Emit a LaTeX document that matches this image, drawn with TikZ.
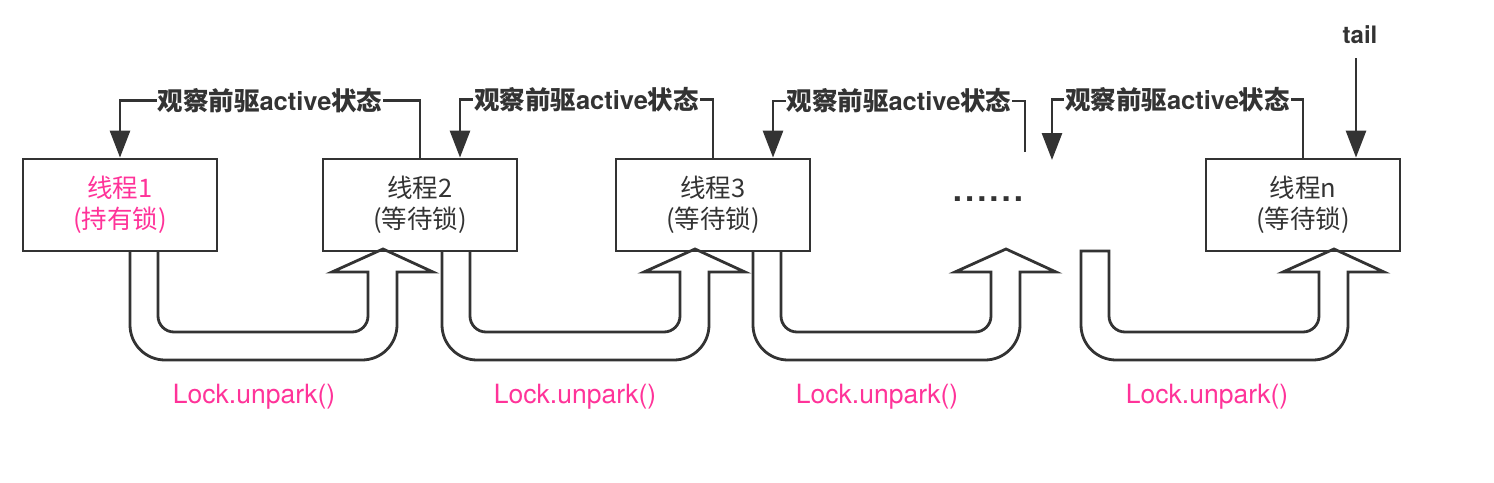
\documentclass[tikz,border=0pt]{standalone}
\usepackage{fontspec}
\newfontfamily\cjk{Noto Sans CJK SC}
\newfontfamily\heros{TeX Gyre Heros}
\usetikzlibrary{arrows.meta,calc}
\definecolor{ink}{HTML}{333333}
\definecolor{pinkx}{HTML}{FF3399}
\newcommand\obslabel{{\cjk\bfseries 观察前驱}{\heros\bfseries active}{\cjk\bfseries 状态}}
\tikzset{
  uarrow/.pic={
    \draw[bigarrow] (0,-251) -- (0,-325) arc[start angle=180,end angle=270,radius=35]
      -- (232,-360) arc[start angle=270,end angle=360,radius=35]
      -- (267,-272) -- (303,-272) -- (253,-249) -- (202,-272) -- (238,-272)
      -- (238,-316) arc[start angle=0,end angle=-90,radius=16]
      -- (44,-332) arc[start angle=270,end angle=180,radius=16]
      -- (28,-251);
  },
  uarrowclosed/.pic={
    \draw[bigarrow] (0,-251) -- (0,-325) arc[start angle=180,end angle=270,radius=35]
      -- (232,-360) arc[start angle=270,end angle=360,radius=35]
      -- (267,-272) -- (303,-272) -- (253,-249) -- (202,-272) -- (238,-272)
      -- (238,-316) arc[start angle=0,end angle=-90,radius=16]
      -- (44,-332) arc[start angle=270,end angle=180,radius=16]
      -- (28,-251) -- cycle;
  }
}
\begin{document}
\begin{tikzpicture}[x=1pt,y=1pt,
  box/.style={draw=ink, line width=2.8pt, minimum width=194pt, minimum height=92pt,
    inner sep=0pt, align=center, text=ink, font=\cjk\fontsize{25.5}{31}\selectfont},
  conn/.style={draw=ink, line width=2.8pt, -{Triangle[length=27pt,width=20pt]}},
  bigarrow/.style={draw=ink, line width=2.8pt, fill=white, line join=miter},
  lbl/.style={fill=white, inner xsep=1pt, inner ysep=2pt, text=ink, font=\fontsize{25.5}{30}\selectfont},
  call/.style={text=pinkx, font=\heros\fontsize{26.5}{30}\selectfont, anchor=base}
]
\useasboundingbox (0,0) rectangle (1494,-482);
% block arrows
\pic at (130,0) {uarrow};
\pic at (442,0) {uarrow};
\pic at (753,0) {uarrow};
\pic at (1081,0) {uarrowclosed};
% boxes
\node[box, text=pinkx] (b1) at (120,-205) {线程1\\(持有锁)};
\node[box] (b2) at (420,-205) {线程2\\(等待锁)};
\node[box] (b3) at (713,-205) {线程3\\(等待锁)};
\node[box] (bn) at (1303,-205) {线程n\\(等待锁)};
\node[text=ink, font=\heros\bfseries\fontsize{33}{36}\selectfont] (dots) at (988,-199)
  {.\kern3pt.\kern3pt.\kern3pt.\kern3pt.\kern3pt.};
% labels under arrows
\node[call] (c1) at (254,-403) {Lock.unpark()};
\node[call] (c2) at (575,-403) {Lock.unpark()};
\node[call] (c3) at (877,-403) {Lock.unpark()};
\node[call] (c4) at (1207,-403) {Lock.unpark()};
% observe connectors
\coordinate (free3) at (1025,-152);
\coordinate (free4) at (1052,-160);
\coordinate (in2) at ($(b2.north)+(40,0)$);
\coordinate (in3) at ($(b3.north)+(60,0)$);
\draw[conn] (b2.north) -- ++(0,57) -| (b1.north) node[lbl,pos=0.25] (o1) {\obslabel};
\draw[conn] (b3.north) -- ++(0,58) -| (in2) node[lbl,pos=0.25] (o2) {\obslabel};
\draw[conn] (free3) -- ++(0,51) -| (in3) node[lbl,pos=0.25] (o3) {\obslabel};
\draw[conn] (bn.north) -- ++(0,58) -| (free4) node[lbl,pos=0.25] (o4) {\obslabel};
% tail
\node[text=ink, font=\heros\bfseries\fontsize{24}{28}\selectfont] (tail) at (1360,-35) {tail};
\coordinate (tailtop) at (1356,-58);
\draw[conn] (tailtop) -- (tailtop |- bn.north);
\end{tikzpicture}
\end{document}
